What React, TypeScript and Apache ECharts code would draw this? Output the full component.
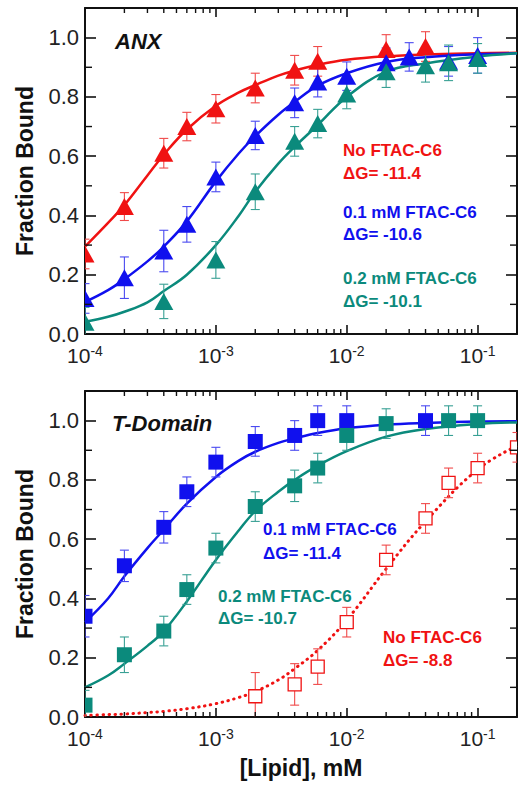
import React, { useEffect, useRef } from "react";
import * as echarts from "echarts";

const FONT = '"Liberation Sans", Arial, Helvetica, sans-serif';

const RED = "#f01212";
const BLUE = "#1010ee";
const TEAL = "#0b8a7c";
const RED_ERR = "#f04a4a";
const BLUE_ERR = "#4a4af0";
const TEAL_ERR = "#38a094";

// ---------- Panel A: ANX ----------
const anxRedX = [1e-4, 2e-4, 4e-4, 6e-4, 1e-3, 2e-3, 4e-3, 6e-3, 2e-2, 4e-2];
const anxRedY = [0.27, 0.43, 0.61, 0.70, 0.76, 0.83, 0.89, 0.92, 0.96, 0.97];
const anxRedErr = [0.05, 0.047, 0.05, 0.048, 0.048, 0.05, 0.05, 0.05, 0.05, 0.05];

const anxBlueX = [1e-4, 2e-4, 4e-4, 6e-4, 1e-3, 2e-3, 4e-3, 6e-3, 1e-2, 2e-2, 3e-2, 6e-2, 1e-1];
const anxBlueY = [0.12, 0.19, 0.28, 0.37, 0.53, 0.67, 0.78, 0.85, 0.87, 0.915, 0.935, 0.92, 0.94];
const anxBlueErr = [0.05, 0.07, 0.07, 0.06, 0.05, 0.048, 0.05, 0.05, 0.048, 0.05, 0.048, 0.05, 0.06];

const anxTealX = [1e-4, 4e-4, 1e-3, 2e-3, 4e-3, 6e-3, 1e-2, 2e-2, 4e-2, 6e-2, 1e-1];
const anxTealY = [0.04, 0.11, 0.25, 0.48, 0.65, 0.71, 0.81, 0.885, 0.905, 0.915, 0.93];
const anxTealErr = [0.05, 0.058, 0.062, 0.06, 0.05, 0.048, 0.05, 0.053, 0.055, 0.06, 0.05];

// fitted curves
const curveX = [1e-4, 1.5e-4, 2e-4, 3e-4, 4e-4, 6e-4, 1e-3, 1.5e-3, 2e-3, 3e-3, 4e-3, 6e-3, 1e-2, 2e-2, 4e-2, 1e-1, 2e-1];
const anxRedFit = [0.295, 0.375, 0.435, 0.535, 0.605, 0.69, 0.77, 0.815, 0.84, 0.872, 0.889, 0.908, 0.925, 0.937, 0.943, 0.947, 0.949];
const anxBlueFit = [0.108, 0.148, 0.185, 0.245, 0.295, 0.38, 0.515, 0.61, 0.668, 0.74, 0.783, 0.838, 0.88, 0.918, 0.934, 0.944, 0.947];
const anxTealFit = [0.041, 0.058, 0.075, 0.107, 0.145, 0.2, 0.3, 0.4, 0.48, 0.575, 0.632, 0.705, 0.8, 0.885, 0.913, 0.936, 0.947];

// ---------- Panel B: T-Domain ----------
const tdBlueX = [1e-4, 2e-4, 4e-4, 6e-4, 1e-3, 2e-3, 4e-3, 6e-3, 1e-2, 4e-2];
const tdBlueY = [0.34, 0.51, 0.64, 0.76, 0.86, 0.93, 0.95, 1.0, 1.0, 1.0];
const tdBlueErr = [0.07, 0.053, 0.053, 0.05, 0.05, 0.05, 0.05, 0.05, 0.05, 0.05];

const tdTealX = [1e-4, 2e-4, 4e-4, 6e-4, 1e-3, 2e-3, 4e-3, 6e-3, 1e-2, 2e-2, 6e-2, 1e-1];
const tdTealY = [0.04, 0.21, 0.29, 0.43, 0.57, 0.71, 0.78, 0.84, 0.95, 0.99, 1.0, 1.0];
const tdTealErr = [0.05, 0.06, 0.05, 0.05, 0.05, 0.05, 0.053, 0.05, 0.05, 0.05, 0.05, 0.05];

const tdRedX = [2e-3, 4e-3, 6e-3, 1e-2, 2e-2, 4e-2, 6e-2, 1e-1, 2e-1];
const tdRedY = [0.07, 0.11, 0.17, 0.32, 0.53, 0.67, 0.79, 0.84, 0.91];
const tdRedErr = [0.08, 0.07, 0.06, 0.05, 0.05, 0.05, 0.05, 0.05, 0.05];

const tdBlueFit = [0.32, 0.4, 0.475, 0.57, 0.632, 0.72, 0.81, 0.865, 0.895, 0.925, 0.94, 0.958, 0.974, 0.986, 0.992, 0.997, 0.998];
const tdTealFit = [0.1, 0.14, 0.18, 0.24, 0.29, 0.39, 0.53, 0.63, 0.695, 0.76, 0.8, 0.848, 0.897, 0.946, 0.972, 0.989, 0.994];
const tdRedFit = [0.005, 0.008, 0.01, 0.015, 0.019, 0.028, 0.045, 0.066, 0.086, 0.125, 0.163, 0.225, 0.327, 0.5, 0.66, 0.835, 0.915];

// axis ticks
const minorXTicks = [
  2e-4, 3e-4, 4e-4, 5e-4, 6e-4, 7e-4, 8e-4, 9e-4,
  2e-3, 3e-3, 4e-3, 5e-3, 6e-3, 7e-3, 8e-3, 9e-3,
  2e-2, 3e-2, 4e-2, 5e-2, 6e-2, 7e-2, 8e-2, 9e-2,
];
const minorYTicks = [0.1, 0.3, 0.5, 0.7, 0.9];

const zip2 = (a: number[], b: number[]) => a.map((v, i) => [v, b[i]]);
const zip3 = (a: number[], b: number[], c: number[]) => a.map((v, i) => [v, b[i], c[i]]);

const AXIS_COLOR = "#111";

function xAxisDef(gridIndex: number, position: "top" | "bottom", showLabel: boolean) {
  return {
    type: "log",
    logBase: 10,
    min: 1e-4,
    max: 0.2,
    gridIndex,
    position,
    axisLine: { show: true, onZero: false, lineStyle: { color: AXIS_COLOR, width: 2 } },
    axisTick: { show: true, inside: true, length: 9, lineStyle: { color: AXIS_COLOR, width: 1.6 } },
    splitLine: { show: false },
    axisLabel: showLabel
      ? {
          show: true,
          margin: 10,
          formatter: (v: number) => {
            const e = Math.log10(v);
            const r = Math.round(e);
            if (Math.abs(e - r) > 1e-6) return "";
            return `{b|10}{s|${r}}`;
          },
          rich: {
            b: { fontSize: 21, fontFamily: FONT, color: "#222", lineHeight: 22, verticalAlign: "bottom" },
            s: { fontSize: 14, fontFamily: FONT, color: "#222", lineHeight: 14, verticalAlign: "top" },
          },
        }
      : { show: false },
  };
}

function yAxisDef(gridIndex: number, position: "left" | "right", showLabel: boolean) {
  return {
    type: "value",
    min: 0,
    max: 1.1,
    interval: 0.2,
    gridIndex,
    position,
    axisLine: { show: true, onZero: false, lineStyle: { color: AXIS_COLOR, width: 2 } },
    axisTick: { show: true, inside: true, length: 11, lineStyle: { color: AXIS_COLOR, width: 1.6 } },
    splitLine: { show: false },
    axisLabel: showLabel
      ? {
          show: true,
          margin: 6,
          fontSize: 22,
          fontFamily: FONT,
          color: "#222",
          formatter: (v: number) => (v > 1.05 ? "" : v.toFixed(1)),
        }
      : { show: false },
  };
}

function lineSeries(xi: number, data: number[][], color: string, dotted = false) {
  return {
    type: "line",
    xAxisIndex: xi,
    yAxisIndex: xi === 0 ? 0 : 2,
    data,
    showSymbol: false,
    smooth: 0.4,
    z: 2,
    lineStyle: dotted
      ? { color, width: 3, type: [0.5, 5.5], cap: "round" }
      : { color, width: 2.5 },
  };
}

function errSeries(xi: number, data: number[][], color: string) {
  return {
    type: "custom",
    xAxisIndex: xi,
    yAxisIndex: xi === 0 ? 0 : 2,
    data,
    clip: true,
    z: 3,
    renderItem: (params: any, api: any) => {
      const x = api.value(0);
      const y = api.value(1);
      const e = api.value(2);
      const t = api.coord([x, y + e]);
      const b = api.coord([x, y - e]);
      const hw = 4.5;
      const style = { stroke: color, lineWidth: 1.1, fill: "none" };
      return {
        type: "group",
        children: [
          { type: "line", shape: { x1: t[0], y1: t[1], x2: b[0], y2: b[1] }, style },
          { type: "line", shape: { x1: t[0] - hw, y1: t[1], x2: t[0] + hw, y2: t[1] }, style },
          { type: "line", shape: { x1: b[0] - hw, y1: b[1], x2: b[0] + hw, y2: b[1] }, style },
        ],
      };
    },
  };
}

function markerSeries(xi: number, data: number[][], color: string, shape: "tri" | "sq" | "open") {
  return {
    type: "custom",
    xAxisIndex: xi,
    yAxisIndex: xi === 0 ? 0 : 2,
    data,
    clip: true,
    z: 4,
    renderItem: (params: any, api: any) => {
      const p = api.coord([api.value(0), api.value(1)]);
      if (shape === "tri") {
        const w = 19;
        const h = 17;
        return {
          type: "polygon",
          shape: {
            points: [
              [p[0], p[1] - h / 2],
              [p[0] + w / 2, p[1] + h / 2],
              [p[0] - w / 2, p[1] + h / 2],
            ],
          },
          style: { fill: color },
        };
      }
      if (shape === "sq") {
        const s = 15;
        return {
          type: "rect",
          shape: { x: p[0] - s / 2, y: p[1] - s / 2, width: s, height: s },
          style: { fill: color },
        };
      }
      const s = 13;
      return {
        type: "rect",
        shape: { x: p[0] - s / 2, y: p[1] - s / 2, width: s, height: s },
        style: { fill: "#fff", stroke: color, lineWidth: 1.3 },
      };
    },
  };
}

function minorXSeries(xi: number) {
  return {
    type: "custom",
    xAxisIndex: xi,
    yAxisIndex: xi === 0 ? 0 : 2,
    data: minorXTicks.map((v) => [v, 0.5]),
    clip: false,
    silent: true,
    z: 5,
    renderItem: (params: any, api: any) => {
      const cs = params.coordSys;
      const px = api.coord([api.value(0), 0.5])[0];
      const style = { stroke: AXIS_COLOR, lineWidth: 1.4 };
      const bottom = cs.y + cs.height;
      return {
        type: "group",
        children: [
          { type: "line", shape: { x1: px, y1: bottom, x2: px, y2: bottom - 5 }, style },
          { type: "line", shape: { x1: px, y1: cs.y, x2: px, y2: cs.y + 5 }, style },
        ],
      };
    },
  };
}

function minorYSeries(xi: number) {
  return {
    type: "custom",
    xAxisIndex: xi,
    yAxisIndex: xi === 0 ? 0 : 2,
    data: minorYTicks.map((v) => [1e-3, v]),
    clip: false,
    silent: true,
    z: 5,
    renderItem: (params: any, api: any) => {
      const cs = params.coordSys;
      const py = api.coord([1e-3, api.value(1)])[1];
      const style = { stroke: AXIS_COLOR, lineWidth: 1.4 };
      const right = cs.x + cs.width;
      return {
        type: "group",
        children: [
          { type: "line", shape: { x1: cs.x, y1: py, x2: cs.x + 7, y2: py }, style },
          { type: "line", shape: { x1: right, y1: py, x2: right - 7, y2: py }, style },
        ],
      };
    },
  };
}

function txt(text: string, x: number, y: number, color: string, size: number, opts: any = {}) {
  const align = opts.align || "left";
  return {
    type: "text",
    x,
    y,
    rotation: opts.rotation || 0,
    z: 20,
    style: {
      text,
      fill: color,
      font: `${opts.italic ? "italic " : ""}bold ${size}px ${FONT}`,
      textAlign: align,
      textVerticalAlign: "middle",
      align,
      verticalAlign: "middle",
    },
  };
}

export default function App() {
  const ref = useRef<HTMLDivElement>(null);

  useEffect(() => {
    if (!ref.current) return;
    const chart = echarts.init(ref.current, undefined, { renderer: "svg" });
    const option: any = {
      animation: false,
      backgroundColor: "#fff",
      grid: [
        { left: 85, right: 11, top: 8, height: 326, containLabel: false },
        { left: 85, right: 11, top: 391, height: 326, containLabel: false },
      ],
      xAxis: [
        xAxisDef(0, "bottom", true),
        xAxisDef(0, "top", false),
        xAxisDef(1, "bottom", true),
        xAxisDef(1, "top", false),
      ],
      yAxis: [
        yAxisDef(0, "left", true),
        yAxisDef(0, "right", false),
        yAxisDef(1, "left", true),
        yAxisDef(1, "right", false),
      ],
      series: [
        // panel A
        lineSeries(0, zip2(curveX, anxRedFit), RED),
        lineSeries(0, zip2(curveX, anxBlueFit), BLUE),
        lineSeries(0, zip2(curveX, anxTealFit), TEAL),
        errSeries(0, zip3(anxRedX, anxRedY, anxRedErr), RED_ERR),
        errSeries(0, zip3(anxBlueX, anxBlueY, anxBlueErr), BLUE_ERR),
        errSeries(0, zip3(anxTealX, anxTealY, anxTealErr), TEAL_ERR),
        markerSeries(0, zip2(anxRedX, anxRedY), RED, "tri"),
        markerSeries(0, zip2(anxBlueX, anxBlueY), BLUE, "tri"),
        markerSeries(0, zip2(anxTealX, anxTealY), TEAL, "tri"),
        minorXSeries(0),
        minorYSeries(0),
        // panel B
        lineSeries(2, zip2(curveX, tdBlueFit), BLUE),
        lineSeries(2, zip2(curveX, tdTealFit), TEAL),
        lineSeries(2, zip2(curveX, tdRedFit), RED, true),
        errSeries(2, zip3(tdBlueX, tdBlueY, tdBlueErr), BLUE_ERR),
        errSeries(2, zip3(tdTealX, tdTealY, tdTealErr), TEAL_ERR),
        errSeries(2, zip3(tdRedX, tdRedY, tdRedErr), RED_ERR),
        markerSeries(2, zip2(tdBlueX, tdBlueY), BLUE, "sq"),
        markerSeries(2, zip2(tdTealX, tdTealY), TEAL, "sq"),
        markerSeries(2, zip2(tdRedX, tdRedY), RED, "open"),
        minorXSeries(2),
        minorYSeries(2),
      ],
      graphic: [
        txt("ANX", 115, 41, "#111", 22, { italic: true }),
        txt("T-Domain", 112, 423, "#111", 22, { italic: true }),
        txt("Fraction Bound", 25, 171, "#111", 23, { align: "center", rotation: Math.PI / 2 }),
        txt("Fraction Bound", 25, 554, "#111", 23, { align: "center", rotation: Math.PI / 2 }),
        txt("[Lipid], mM", 301, 768, "#111", 23, { align: "center" }),
        txt("No FTAC-C6", 343, 150, RED, 17),
        txt("\u0394G= -11.4", 343, 173, RED, 17),
        txt("0.1 mM FTAC-C6", 343, 212, BLUE, 17),
        txt("\u0394G= -10.6", 343, 234, BLUE, 17),
        txt("0.2 mM FTAC-C6", 343, 278, TEAL, 17),
        txt("\u0394G= -10.1", 343, 301, TEAL, 17),
        txt("0.1 mM FTAC-C6", 263, 529, BLUE, 17),
        txt("\u0394G= -11.4", 263, 553, BLUE, 17),
        txt("0.2 mM FTAC-C6", 218, 596, TEAL, 17),
        txt("\u0394G= -10.7", 218, 618, TEAL, 17),
        txt("No FTAC-C6", 383, 637, RED, 17),
        txt("\u0394G= -8.8", 383, 660, RED, 17),
      ],
    };
    chart.setOption(option);
    return () => chart.dispose();
  }, []);

  return (
    <div
      ref={ref}
      style={{ position: "fixed", left: 0, top: 0, width: 528, height: 787, background: "#fff" }}
    />
  );
}
